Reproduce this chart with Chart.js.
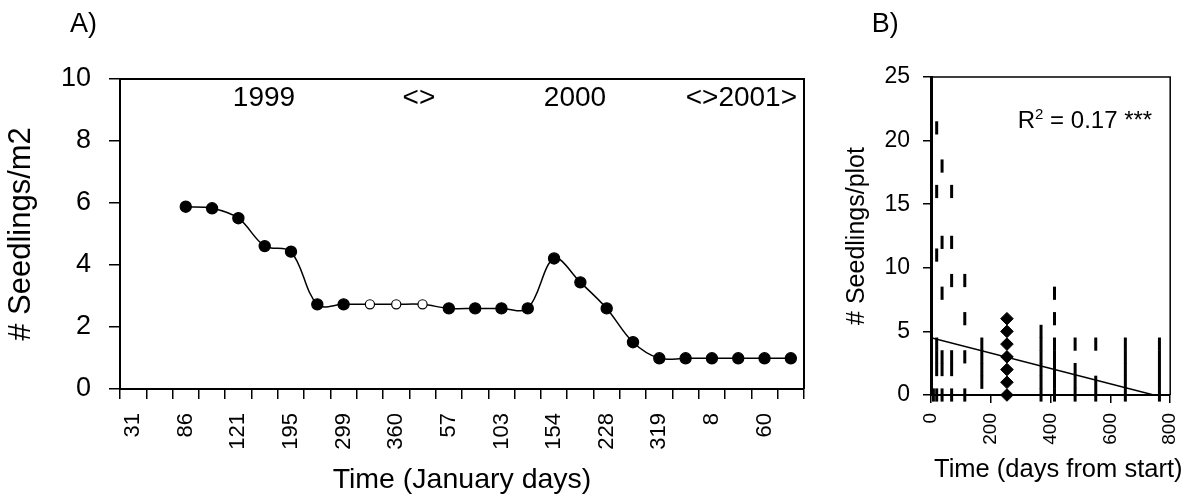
<!DOCTYPE html>
<html><head><meta charset="utf-8">
<script src="https://cdn.jsdelivr.net/npm/chart.js@4/dist/chart.umd.min.js"></script>
<style>
html,body{margin:0;padding:0;background:#fff;}
#wrap{position:relative;width:1203px;height:499px;overflow:hidden;background:#fff;}
#ca{position:absolute;left:0;top:0;}
#cb{position:absolute;left:840px;top:0;}
</style></head><body>
<div id="wrap">
<canvas id="ca" width="840" height="499"></canvas>
<canvas id="cb" width="363" height="499"></canvas>
</div>
<script>
// ---------- Panel A data ----------
const aCategories = ["31","","86","","121","","195","","299","","360","","57","","103","","154","","228","","319","","8","","60",""];
const aSeedlings  = [null,null,5.88,5.83,5.51,4.61,4.43,2.73,2.73,2.73,2.73,2.73,2.60,2.60,2.60,2.60,4.21,3.44,2.60,1.51,0.99,0.99,0.99,0.99,0.99,0.99];
const aEstimated  = [false,false,false,false,false,false,false,false,false,true,true,true,false,false,false,false,false,false,false,false,false,false,false,false,false,false];
const aYearLabels = ["1999","<>","2000","<>2001>"];
const aYTicks = [0,2,4,6,8,10];

// ---------- Panel B data ----------
const bColumnDays   = [8, 19, 37, 69, 113, 170, 368, 413, 482, 551, 650, 764];
const bColumnCounts = [[0],[0,2,3,4,11,16,21],[0,2,3,8,12,18],[0,2,3,9,12,16],[0,3,6,9],[1,2,3,4],
                       [0,1,2,3,4,5],[0,1,2,3,4,6,8],[0,1,2,4],[0,1,4],[0,1,2,3,4],[0,1,2,3,4]];
const bMarkedDay    = [254];
const bMarkedCounts = [[0,1,2,3,4,5,6]];
const bFitDays   = [0, 745];
const bFitCounts = [4.5, 0];
const bXTicks = [0,200,400,600,800];
const bYTicks = [0,5,10,15,20,25];
const bRsq = "0.17";
const panelLabels = ["A)","B)"];
const bXTitle = "Time (days from start)";

const FONT = "'Liberation Sans', Arial, Helvetica, sans-serif";
Chart.defaults.font.family = FONT;
Chart.defaults.color = '#000';

function boxPlugin(id, lw){
  return { id, beforeDatasetsDraw(chart){
    const {ctx, chartArea:a} = chart;
    ctx.save(); ctx.strokeStyle='#000'; ctx.lineWidth=lw;
    ctx.beginPath(); ctx.moveTo(a.left, a.top); ctx.lineTo(a.right, a.top); ctx.lineTo(a.right, a.bottom); ctx.stroke();
    ctx.restore();
  }};
}

const aTextPlugin = { id:'aText', afterDraw(chart){
  const {ctx, chartArea:a} = chart;
  const w = a.right - a.left, h = a.bottom - a.top;
  ctx.save(); ctx.fillStyle='#000'; ctx.textBaseline='alphabetic';
  ctx.font = '28px ' + FONT;
  const pos = [[0.2105,'center'],[0.4371,'center'],[0.6652,'center'],[0.9898,'right']];
  const y = a.top + 0.0885*h;
  aYearLabels.forEach((t,i)=>{ ctx.textAlign = pos[i][1]; ctx.fillText(t, a.left + pos[i][0]*w, y); });
  ctx.font = '27px ' + FONT; ctx.textAlign='left';
  ctx.fillText(panelLabels[0], 70, 31.7);
  ctx.restore();
}};

const bTextPlugin = { id:'bText', afterDraw(chart){
  const {ctx, chartArea:a} = chart;
  const w = a.right - a.left, h = a.bottom - a.top;
  ctx.save(); ctx.fillStyle='#000'; ctx.textBaseline='alphabetic'; ctx.textAlign='left';
  let x = a.left + 0.3627*w; const y = a.top + 0.1606*h;
  ctx.font = '24px ' + FONT; ctx.fillText('R', x, y); x += ctx.measureText('R').width;
  ctx.font = '15px ' + FONT; ctx.fillText('2', x, y - 9); x += ctx.measureText('2').width;
  ctx.font = '24px ' + FONT; ctx.fillText(' = ' + bRsq + ' ***', x, y);
  ctx.font = '27px ' + FONT;
  ctx.fillText(panelLabels[1], 31.7, 31.7);
  // x-axis title, centred slightly right of the plot as in the original layout
  ctx.font = '25.5px ' + FONT; ctx.textAlign='center';
  ctx.fillText(bXTitle, a.left + 0.532*w + 0, 476.7);
  ctx.restore();
}};

// ---------- Chart A ----------
new Chart(document.getElementById('ca'), {
  type:'line',
  data:{ labels:aCategories, datasets:[{
    data:aSeedlings, borderColor:'#000', borderWidth:1.5, tension:0.35, fill:false,
    pointRadius: c => aEstimated[c.dataIndex] ? 4.6 : 5.6,
    pointBackgroundColor: c => aEstimated[c.dataIndex] ? '#fff' : '#000',
    pointBorderColor:'#000', pointBorderWidth:1.2, pointHoverRadius:0, clip:false
  }]},
  options:{
    responsive:false, animation:false, devicePixelRatio:1,
    layout:{padding:{left:0, top:79, right:36, bottom:0}},
    plugins:{legend:{display:false}, tooltip:{enabled:false}},
    events:[],
    scales:{
      x:{ type:'category', offset:true,
        grid:{display:true, offset:true, drawOnChartArea:false, drawTicks:true, tickLength:10, color:'#000', lineWidth:1.5},
        border:{display:true, color:'#000', width:2},
        ticks:{autoSkip:false, maxRotation:90, minRotation:90, padding:14, color:'#000', font:{size:22}},
        title:{display:true, text:'Time (January days)', color:'#000', font:{size:28.5, lineHeight:1.2}, padding:{top:0, bottom:1.5}},
        afterFit(s){ s.height = 110; }
      },
      y:{ min:0, max:10,
        afterBuildTicks(s){ s.ticks = aYTicks.map(v=>({value:v})); },
        grid:{drawOnChartArea:false, drawTicks:true, tickLength:11, color:'#000', lineWidth:1.5},
        border:{display:true, color:'#000', width:2},
        ticks:{padding:18, color:'#000', font:{size:27}},
        title:{display:true, text:'# Seedlings/m2', color:'#000', font:{size:31, lineHeight:1.2}, padding:{top:3, bottom:0}},
        afterFit(s){ s.width = 120; }
      }
    }
  },
  plugins:[boxPlugin('boxA', 2), aTextPlugin]
});

// ---------- Chart B ----------
const bDashPoints = [];
bColumnDays.forEach((d,i)=>bColumnCounts[i].forEach(v=>bDashPoints.push({x:d, y:v})));
const bDiamondPoints = [];
bMarkedDay.forEach((d,i)=>bMarkedCounts[i].forEach(v=>bDiamondPoints.push({x:d, y:v})));
const bFitPoints = bFitDays.map((d,i)=>({x:d, y:bFitCounts[i]}));

new Chart(document.getElementById('cb'), {
  type:'scatter',
  data:{ datasets:[
    { data:bFitPoints, showLine:true, borderColor:'#000', borderWidth:1.5, pointRadius:0, fill:false, tension:0 },
    { data:bDashPoints, showLine:false, pointStyle:'line', rotation:90, pointRadius:6.6, pointBorderWidth:3,
      borderColor:'#000', pointBorderColor:'#000', clip:false },
    { data:bDiamondPoints, showLine:false, pointStyle:'rectRot', pointRadius:6.3,
      pointBackgroundColor:'#000', pointBorderColor:'#000', pointBorderWidth:1, clip:false }
  ]},
  options:{
    responsive:false, animation:false, devicePixelRatio:1,
    layout:{padding:{left:0, top:77, right:17, bottom:0}},
    plugins:{legend:{display:false}, tooltip:{enabled:false}},
    events:[],
    scales:{
      x:{ type:'linear', min:0, max:800,
        afterBuildTicks(s){ s.ticks = bXTicks.map(v=>({value:v})); },
        grid:{drawOnChartArea:false, drawTicks:true, tickLength:8, color:'#000', lineWidth:1.5},
        border:{display:true, color:'#000', width:2},
        ticks:{maxRotation:90, minRotation:90, padding:10, color:'#000', font:{size:19}},
        title:{display:false},
        afterFit(s){ s.height = 104; }
      },
      y:{ min:0, max:25,
        afterBuildTicks(s){ s.ticks = bYTicks.map(v=>({value:v})); },
        grid:{drawOnChartArea:false, drawTicks:true, tickLength:8, color:'#000', lineWidth:1.5},
        border:{display:true, color:'#000', width:3},
        ticks:{padding:13, color:'#000', font:{size:23}},
        title:{display:true, text:'# Seedlings/plot', color:'#000', font:{size:25, lineHeight:1.2}, padding:{top:2.5, bottom:0}},
        afterFit(s){ s.width = 91; }
      }
    }
  },
  plugins:[boxPlugin('boxB', 1.5), bTextPlugin]
});
</script>
</body></html>
